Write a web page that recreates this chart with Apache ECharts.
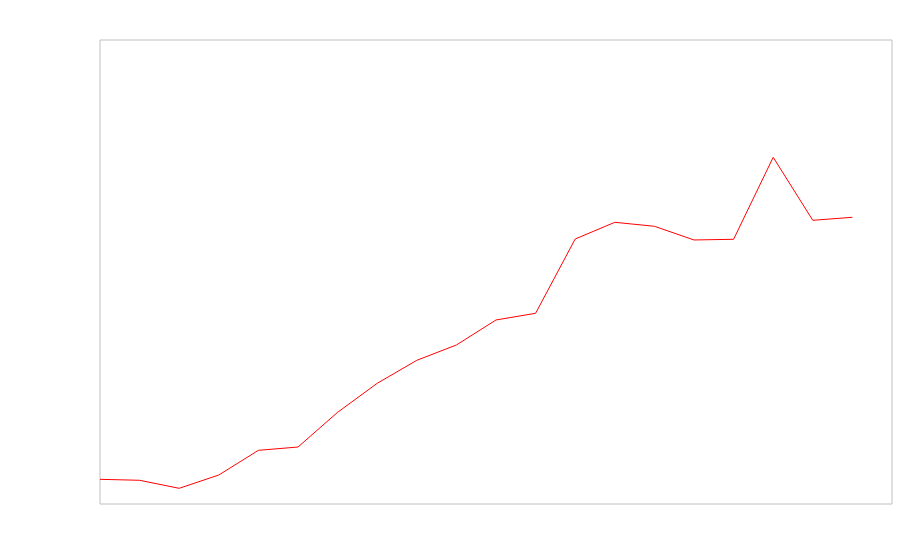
<!DOCTYPE html>
<html>
<head>
<meta charset="utf-8">
<script src="https://cdn.jsdelivr.net/npm/echarts@6/dist/echarts.min.js"></script>
<style>html,body{margin:0;padding:0;background:#fff;}#c{width:900px;height:560px;}</style>
</head>
<body>
<div id="c"></div>
<script>
const categories = ['1','2','3','4','5','6','7','8','9','10','11','12','13','14','15','16','17','18','19','20','21'];
const values = [5.32, 5.11, 3.38, 6.25, 11.57, 12.28, 19.76, 26.01, 30.97, 34.27, 39.66, 41.1, 57.11, 60.71, 59.85, 56.9, 57.05, 74.72, 61.14, 61.79, null];

const chart = echarts.init(document.getElementById('c'), null, {renderer: 'canvas'});
chart.setOption({
  animation: false,
  grid: {left: 100, right: 8, top: 40, bottom: 56, show: true, borderColor: '#c0c0c0', borderWidth: 1, backgroundColor: 'transparent'},
  xAxis: {
    type: 'category', data: categories, boundaryGap: false,
    axisLine: {show: false}, axisTick: {show: false}, axisLabel: {show: false}, splitLine: {show: false}
  },
  yAxis: {
    type: 'value', min: 0, max: 100,
    axisLine: {show: false}, axisTick: {show: false}, axisLabel: {show: false}, splitLine: {show: false}
  },
  series: [{
    type: 'line', data: values, showSymbol: false, symbol: 'none',
    lineStyle: {color: '#ff0000', width: 1}, itemStyle: {color: '#ff0000'}
  }]
});
</script>
</body>
</html>
